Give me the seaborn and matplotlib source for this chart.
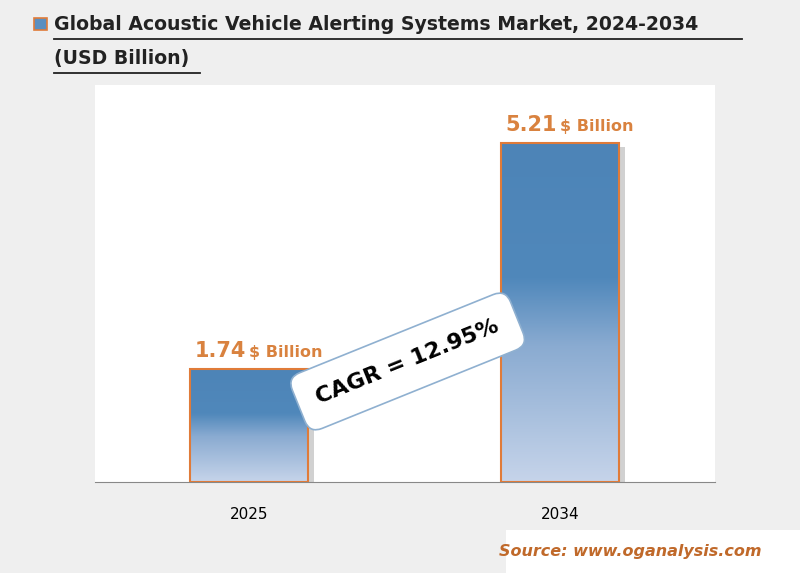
import numpy as np
import pandas as pd
import matplotlib
matplotlib.use("Agg")
import matplotlib.pyplot as plt
import seaborn as sns
from matplotlib.colors import LinearSegmentedColormap
from matplotlib.patches import Rectangle

# Data
years = ["2025", "2034"]
market_values = [1.74, 5.21]
cagr_label = "CAGR = 12.95%"

df = pd.DataFrame({"Year": years, "Value": market_values})

fig = plt.figure(figsize=(8, 5.73), dpi=100)
fig.patch.set_facecolor("#efefef")
ax = fig.add_axes([0.119, 0.159, 0.775, 0.693])
ax.set_facecolor("white")

sns.barplot(data=df, x="Year", y="Value", ax=ax, width=0.38,
            color="#4f86b8", edgecolor="#e07b39", linewidth=1.5, zorder=3)

ax.set_xlim(-0.495, 1.499)
ax.set_ylim(0, 6.1)

# gradient fill clipped to each bar, plus a soft shadow
cmap = LinearSegmentedColormap.from_list(
    "bar", [(0, "#c6d4ea"), (0.4, "#8aabd1"), (0.6, "#5088bb"), (1, "#4d84b7")])
grad = np.linspace(0, 1, 256).reshape(-1, 1)
for p in list(ax.patches):
    x0, w, h = p.get_x(), p.get_width(), p.get_height()
    shadow = Rectangle((x0 + 0.02, 0), w, h - 0.06, facecolor="#999999",
                       alpha=0.45, zorder=2, edgecolor="none")
    ax.add_patch(shadow)
    im = ax.imshow(grad, extent=[x0, x0 + w, 0, h], origin="lower",
                   cmap=cmap, aspect="auto", zorder=3.5)
    im.set_clip_path(p)
    p.set_facecolor("none")
    p.set_zorder(4)

for i, v in enumerate(market_values):
    ax.text(i - 0.01, v + 0.12, f"{v:.2f}", ha="right", va="bottom",
            fontsize=15, fontweight="bold", color="#d9823f")
    ax.text(i, v + 0.14, "$ Billion", ha="left", va="bottom",
            fontsize=11.5, fontweight="bold", color="#d9823f")

for s in ["top", "right", "left"]:
    ax.spines[s].set_visible(False)
ax.spines["bottom"].set_color("#888888")
ax.set_yticks([])
ax.set_xlabel("")
ax.set_ylabel("")
ax.tick_params(axis="x", length=0, labelsize=11, pad=18)

# CAGR label
ax.text(0.51, 1.85, cagr_label, rotation=22, ha="center", va="center",
        fontsize=16, fontweight="bold", color="black", zorder=6,
        bbox=dict(boxstyle="round,pad=0.9,rounding_size=0.6", fc="white",
                  ec="#8fb0d0", lw=1.2))

# Title
fig.patches.append(Rectangle((0.043, 0.947), 0.016, 0.022, transform=fig.transFigure,
                             facecolor="#5b8fc0", edgecolor="#e07b39", lw=1.2))
fig.text(0.068, 0.958, "Global Acoustic Vehicle Alerting Systems Market, 2024-2034",
         fontsize=13.6, fontweight="bold", color="#222222", va="center")
fig.text(0.068, 0.898, "(USD Billion)", fontsize=13.6, fontweight="bold",
         color="#222222", va="center")
fig.add_artist(plt.Line2D([0.068, 0.928], [0.932, 0.932], color="#222222", lw=1.3))
fig.add_artist(plt.Line2D([0.068, 0.25], [0.873, 0.873], color="#222222", lw=1.3))

# Source
fig.patches.append(Rectangle((0.632, 0.0), 0.368, 0.075, transform=fig.transFigure,
                             facecolor="white", edgecolor="none"))
fig.text(0.952, 0.037, "Source: www.oganalysis.com", ha="right", va="center",
         fontsize=11.5, fontweight="bold", style="italic", color="#c0692a")

fig.savefig("out.png", dpi=100, facecolor=fig.get_facecolor())
